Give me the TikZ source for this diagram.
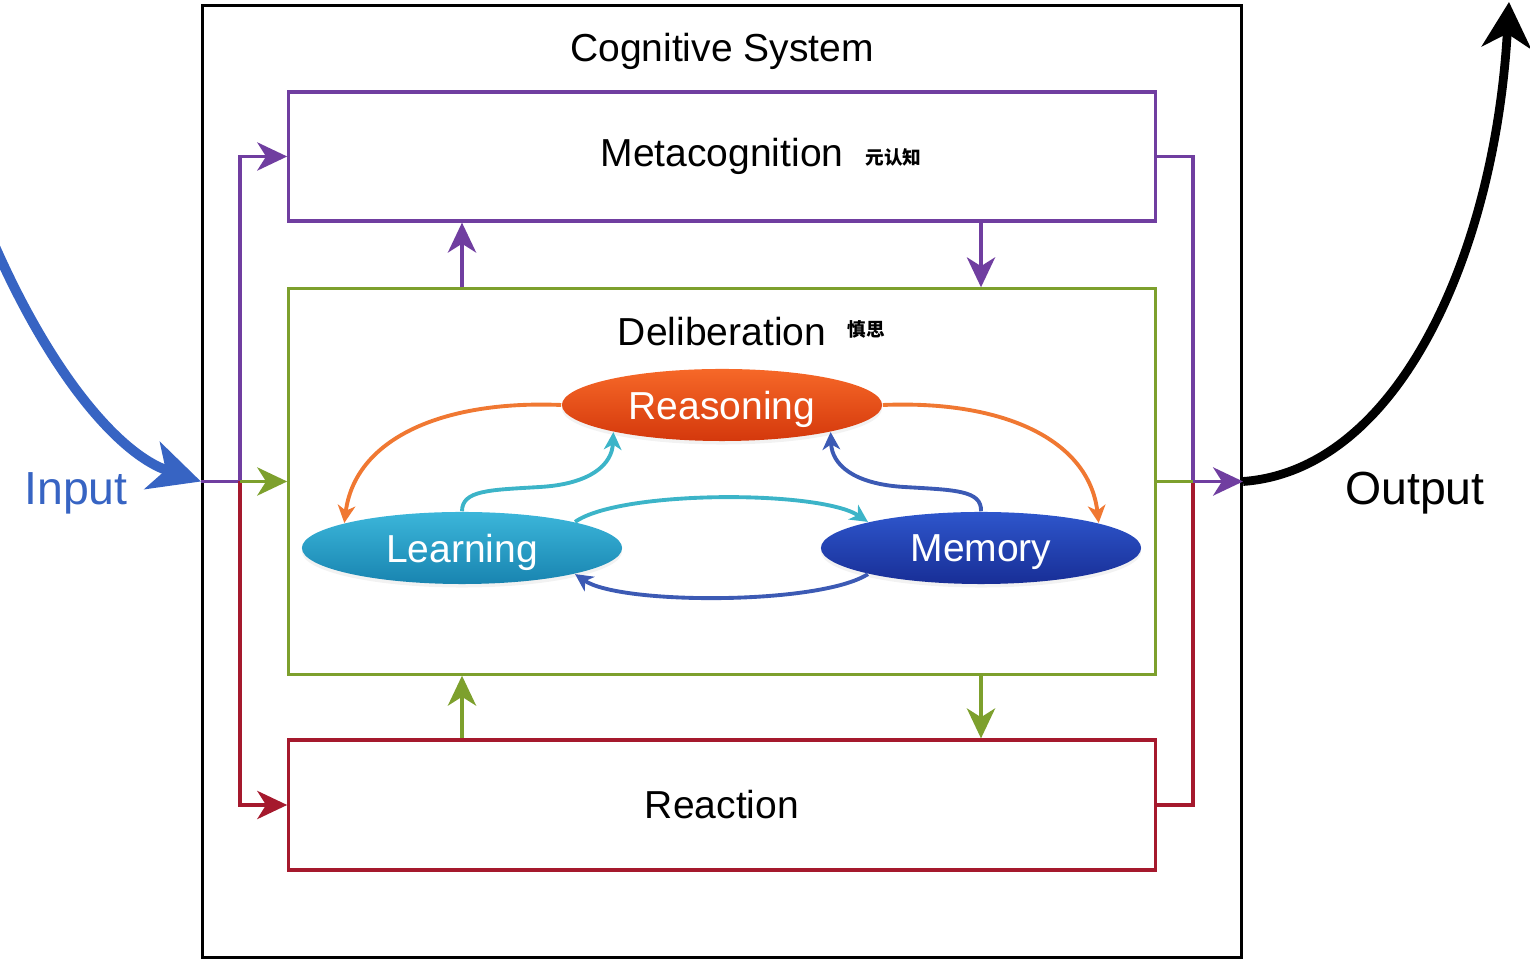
\documentclass[tikz,border=0pt]{standalone}
\usepackage{fontspec}
\setmainfont{Liberation Sans}
\newfontfamily\cjk{Noto Sans CJK SC}
\usepackage{tikz}
\usetikzlibrary{arrows.meta,shapes.geometric,shadows}

\definecolor{metapurple}{RGB}{112,62,160}
\definecolor{delibgreen}{RGB}{125,160,45}
\definecolor{reactred}{RGB}{165,25,45}
\definecolor{inblue}{RGB}{55,100,195}
\definecolor{arcorange}{RGB}{240,120,50}
\definecolor{arccyan}{RGB}{60,180,200}
\definecolor{arcblue}{RGB}{60,90,180}

\newcommand{\lblfont}{\fontsize{11.1}{13}\selectfont}
\newcommand{\iofont}{\fontsize{13.2}{15}\selectfont}
\newcommand{\cjkfont}{\cjk\bfseries\fontsize{5.3}{6}\selectfont}

\tikzset{
  stage/.style={draw, line width=0.9pt, minimum width=8.66cm, inner sep=0pt, font=\lblfont},
  oval/.style={ellipse, minimum width=3.2cm, minimum height=0.72cm, inner sep=0pt,
    text=white, font=\lblfont, text depth=0pt,
    drop shadow={shadow xshift=0pt, shadow yshift=-1pt, opacity=0.1}},
  flow/.style={line width=1.1pt, -{Stealth[length=8.5pt,width=8pt,inset=2.5pt]}},
  cyc/.style={line width=1.1pt, -{Stealth[length=5pt,width=5pt,inset=1.5pt]}},
}

\begin{document}
\begin{tikzpicture}[x=0.01cm, y=-0.01cm]
\useasboundingbox (0,0) rectangle (1530,965);
% ---- boxes ----
\node[draw, line width=1pt, minimum width=10.38cm, minimum height=9.51cm, inner sep=0pt]
  (outer) at (722,481.5) {};
\node[font=\lblfont, anchor=base] (systxt) at (722,62) {Cognitive System};
\node[stage, metapurple, text=black, minimum height=1.29cm] (meta) at (722,156.5) {Metacognition};
\node[stage, delibgreen, minimum height=3.85cm] (delib) at (722,481.5) {};
\node[stage, reactred, text=black, minimum height=1.30cm] (react) at (722,805) {Reaction};
\node[font=\lblfont, anchor=base] (delibtxt) at (722,346) {Deliberation};
\node[font=\cjkfont, anchor=base west] (metacn) at (853,165) {元认知};
\node[font=\cjkfont, anchor=base west] (delibcn) at (835,337) {慎思};

% ---- deliberation loop ----
\node[oval, top color={rgb,255:red,246;green,104;blue,40}, bottom color={rgb,255:red,212;green,56;blue,12}]
  (reason) at (722,405) {Reasoning};
\node[oval, top color={rgb,255:red,60;green,182;blue,218}, bottom color={rgb,255:red,24;green,132;blue,176}]
  (learn) at (462,548) {Learning};
\node[oval, top color={rgb,255:red,46;green,86;blue,204}, bottom color={rgb,255:red,24;green,46;blue,150}]
  (memory) at (981,548) {Memory};
\draw[cyc, arcorange] (reason.west) .. controls (440,400) and (355,440) .. (learn.168);
\draw[cyc, arcorange] (reason.east) .. controls (1004,400) and (1089,440) .. (memory.12);
\draw[cyc, arccyan] (learn.north) .. controls (462,490) and (490,490) .. (540,487)
  .. controls (590,484) and (612,465) .. (reason.194);
\draw[cyc, arcblue] (memory.north) .. controls (982,490) and (954,490) .. (904,487)
  .. controls (854,484) and (832,465) .. (reason.346);
\draw[cyc, arccyan] (learn.13) .. controls (620,490) and (820,490) .. (memory.167);
\draw[cyc, arcblue] (memory.193) .. controls (820,605) and (620,605) .. (learn.347);

% ---- links between stages ----
\coordinate (jL) at (240,481.5);
\coordinate (jR) at (1193,481.5);
\draw[line width=1.1pt, metapurple] (outer.west) -- (jL);
\draw[flow, metapurple] (jL) |- (meta.west);
\draw[flow, reactred] (jL) |- (react.west);
\draw[flow, delibgreen] (jL) -- (delib.west);
\draw[line width=1.1pt, metapurple] (meta.east) -| (jR);
\draw[line width=1.1pt, reactred] (react.east) -| (jR);
\draw[line width=1.1pt, delibgreen] (delib.east) -- (jR);
\draw[flow, metapurple] (jR) -- (outer.east);
\draw[flow, metapurple] (delib.north -| learn) -- (meta.south -| learn);
\draw[flow, metapurple] (meta.south -| memory) -- (delib.north -| memory);
\draw[flow, delibgreen] (react.north -| learn) -- (delib.south -| learn);
\draw[flow, delibgreen] (delib.south -| memory) -- (react.north -| memory);

% ---- input and output ----
\draw[line width=2.8pt, inblue, -{Stealth[length=14.5pt,width=14pt,inset=4pt]}]
  (-10,235) .. controls (50,375) and (120,455) .. (outer.west);
\draw[line width=2.5pt, -{Stealth[length=13pt,width=14pt,inset=4pt]}]
  (outer.east) .. controls (1400,470) and (1495,250) .. (1509,2);
\node[font=\iofont, text=inblue, anchor=base] (intxt) at (76,505) {Input};
\node[font=\iofont, anchor=base] (outtxt) at (1415,505) {Output};
\end{tikzpicture}
\end{document}
